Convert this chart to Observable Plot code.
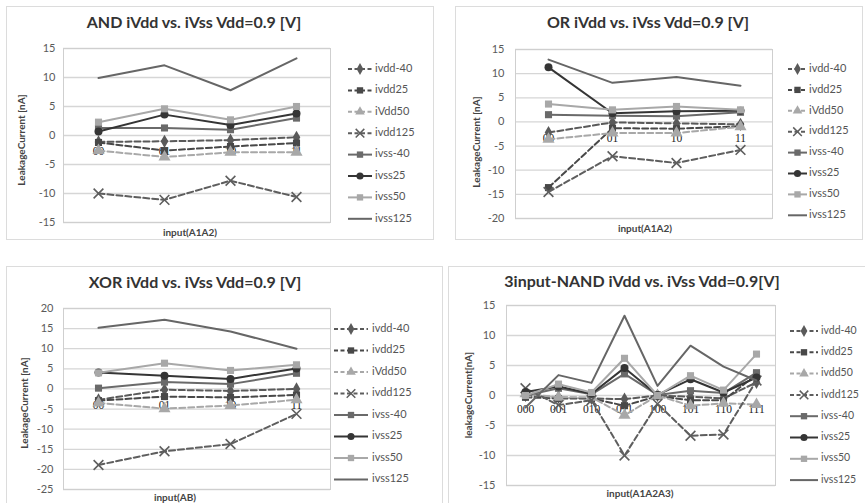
<!DOCTYPE html>
<html><head><meta charset="utf-8">
<script src="https://cdn.jsdelivr.net/npm/d3@7"></script>
<script src="https://cdn.jsdelivr.net/npm/@observablehq/plot@0.6"></script>
<style>
body{margin:0;background:#fff;}
#page{position:relative;width:865px;height:503px;overflow:hidden;font-family:Lato,"Open Sans",sans-serif;background:#fff;}
.panel{position:absolute;border:1px solid #dcdcdc;box-sizing:border-box;}
.chart{position:absolute;overflow:visible;}
</style></head><body><div id="page"></div>
<script>
// ---- data ----
const SERIES = ["ivdd-40","ivdd25","iVdd50","ivdd125","ivss-40","ivss25","ivss50","ivss125"];
const SERIES_NAND = ["ivdd-40","ivdd25","ivdd50","ivdd125","ivss-40","ivss25","ivss50","ivss125"];
const CATS2 = ["00","01","10","11"];
const CATS3 = ["000","001","010","011","100","101","110","111"];

// values in SERIES order
const AND_VALUES = [
  [-1.1, -1.0, -0.8, -0.3],
  [-1.2, -2.6, -1.9, -1.3],
  [-2.6, -3.7, -2.9, -2.9],
  [-10.0, -11.1, -7.8, -10.6],
  [1.3, 1.3, 1.0, 3.0],
  [0.7, 3.6, 1.8, 3.8],
  [2.3, 4.6, 2.7, 5.0],
  [9.9, 12.1, 7.8, 13.3]
];
const OR_VALUES = [
  [-2.2, -0.1, -0.3, -0.5],
  [-13.6, -1.3, -1.4, -0.9],
  [-3.6, -2.3, -2.3, -1.0],
  [-14.5, -7.1, -8.5, -5.8],
  [1.5, 1.3, 1.2, 2.0],
  [11.3, 1.8, 2.2, 2.3],
  [3.7, 2.5, 3.2, 2.5],
  [12.9, 8.1, 9.3, 7.5]
];
const XOR_VALUES = [
  [-2.7, -0.2, -0.5, 0.0],
  [-2.9, -1.9, -2.1, -1.5],
  [-3.5, -4.9, -4.1, -2.7],
  [-18.9, -15.5, -13.7, -6.2],
  [0.2, 1.7, 1.2, 3.9],
  [4.1, 3.3, 2.5, 5.1],
  [4.0, 6.4, 4.6, 6.0],
  [15.2, 17.2, 14.3, 10.0]
];
const NAND_VALUES = [
  [0.0, -0.3, -0.5, -0.6, 0.0, -0.2, -0.5, 2.2],
  [-0.3, -0.5, -0.5, -1.7, -0.1, -0.8, -0.8, 3.5],
  [0.3, -0.3, -0.3, -3.3, 0.0, -1.7, -1.3, -1.5],
  [1.2, -1.6, -0.8, -10.0, -1.4, -6.7, -6.5, 2.5],
  [0.0, 1.2, 0.2, 3.6, 0.1, 0.8, 0.4, 3.8],
  [0.6, 1.5, 0.3, 4.6, 0.1, 2.7, 0.5, 3.0],
  [0.0, 1.9, 0.5, 6.2, 0.0, 3.3, 0.9, 6.9],
  [-2.0, 3.4, 2.1, 13.3, 1.6, 8.3, 4.8, 2.5]
];
const TICKS_AND = [-15,-10,-5,0,5,10,15];
const TICKS_OR = [-20,-15,-10,-5,0,5,10,15];
const TICKS_XOR = [-25,-20,-15,-10,-5,0,5,10,15,20];
const TICKS_NAND = [-15,-10,-5,0,5,10,15];

// ---- styles ----
const STYLES = [
  {color:"#5a5a5a", dash:"6,3", symbol:"diamond", sym:d3.symbolDiamond},
  {color:"#484848", dash:"6,3", symbol:"square", sym:d3.symbolSquare},
  {color:"#a8a8a8", dash:"6,3", symbol:"triangle", sym:d3.symbolTriangle},
  {color:"#5e5e5e", dash:"6,3", symbol:"times", sym:d3.symbolTimes, stroke:true},
  {color:"#6a6a6a", dash:null, symbol:"square", sym:d3.symbolSquare},
  {color:"#353535", dash:null, symbol:"circle", sym:d3.symbolCircle},
  {color:"#a8a8a8", dash:null, symbol:"square", sym:d3.symbolSquare},
  {color:"#666666", dash:null, symbol:null, sym:null}
];

const page = document.getElementById("page");

const borders = [[6,6,428,234],[455,6,408,234],[6,266,437,240],[448,266,420,240]];
borders.forEach(([x,y,w,h])=>{
  const d=document.createElement("div"); d.className="panel";
  Object.assign(d.style,{left:x+"px",top:y+"px",width:w+"px",height:h+"px"});
  page.appendChild(d);
});

function panel(cfg){
  const [sx,sy,W,H] = cfg.box;
  const data = [];
  SERIES.forEach((s,i)=>cfg.values[i].forEach((v,j)=>data.push({si:i, cat:cfg.cats[j], v})));
  const marks = [
    Plot.gridY(cfg.ticks, {stroke:"#d6d6d6", strokeOpacity:1, strokeWidth:1.3}),
    Plot.frame({stroke:"#cfcfcf"}),
    Plot.axisY(cfg.ticks, {tickSize:0, tickPadding:cfg.tickPad, fontSize:11, fill:"#5a5a5a", tickFormat:d=>String(d), label:null}),
    Plot.text(cfg.cats, {x:d=>d, y:()=>0, dy:cfg.catDy, fontSize:11.5, fill:"#222", fontFamily:"Liberation Serif, serif"})
  ];
  STYLES.forEach((st,i)=>{
    const d = data.filter(r=>r.si===i);
    marks.push(Plot.line(d,{x:"cat",y:"v",stroke:st.color,strokeWidth:2,strokeDasharray:st.dash||undefined}));
    if(st.symbol){
      if(st.stroke) marks.push(Plot.dot(d,{x:"cat",y:"v",symbol:st.symbol,r:4.5,stroke:st.color,strokeWidth:1.6,fill:"none"}));
      else marks.push(Plot.dot(d,{x:"cat",y:"v",symbol:st.symbol,r:st.symbol==="triangle"?4.5:4,fill:st.color,stroke:"none"}));
    }
  });
  const svg = Plot.plot({
    width:W, height:H,
    marginLeft:cfg.plot[0]-sx, marginRight:sx+W-cfg.plot[1],
    marginTop:cfg.plot[2]-sy, marginBottom:sy+H-cfg.plot[3],
    x:{type:"point", domain:cfg.cats, padding:0.5, axis:null},
    y:{domain:cfg.domain, axis:null},
    style:{fontFamily:"Lato, sans-serif", background:"transparent", overflow:"visible"},
    marks
  });
  svg.classList.add("chart");
  svg.style.left=sx+"px"; svg.style.top=sy+"px";
  page.appendChild(svg);
  const g = d3.select(svg).append("g");
  g.append("text").attr("x",cfg.title[1]-sx).attr("y",cfg.title[2]-sy).attr("text-anchor","middle")
    .attr("font-size",16).attr("font-weight","bold").attr("fill","#333").attr("font-family","Lato, sans-serif").text(cfg.title[0]);
  g.append("text").attr("transform",`translate(${cfg.ylab[1]-sx},${cfg.ylab[2]-sy}) rotate(-90)`).attr("text-anchor","middle")
    .attr("dominant-baseline","middle").attr("font-size",10).attr("font-weight","bold").attr("fill","#444").attr("font-family","Lato, sans-serif").text(cfg.ylab[0]);
  g.append("text").attr("x",cfg.xlab[1]-sx).attr("y",cfg.xlab[2]-sy).attr("text-anchor","middle")
    .attr("font-size",10).attr("font-weight","bold").attr("fill","#444").attr("font-family","Lato, sans-serif").text(cfg.xlab[0]);
  // legend
  const [lx0,lx1,tx,ly0,lstep,fs] = cfg.legend;
  cfg.labels.forEach((lab,i)=>{
    const st=STYLES[i]; const y=ly0+i*lstep-sy;
    g.append("line").attr("x1",lx0-sx).attr("x2",lx1-sx).attr("y1",y).attr("y2",y)
      .attr("stroke",st.color).attr("stroke-width",2).attr("stroke-dasharray",st.dash?"4,2.5":null);
    if(st.sym){
      const p=d3.symbol(st.sym, st.stroke?50:40)();
      const m=g.append("path").attr("d",p).attr("transform",`translate(${(lx0+lx1)/2-sx},${y})`);
      if(st.stroke) m.attr("fill","none").attr("stroke",st.color).attr("stroke-width",1.5);
      else m.attr("fill",st.color);
    }
    g.append("text").attr("x",tx-sx).attr("y",y).attr("text-anchor","start").attr("dominant-baseline","middle").attr("font-size",fs)
      .attr("fill","#555").attr("font-family","Lato, sans-serif").text(lab);
  });
}

panel({box:[0,0,445,245], plot:[63,330,48,222], domain:[-15,15], ticks:TICKS_AND, tickPad:8, cats:CATS2, values:AND_VALUES, catDy:16,
  title:["AND iVdd vs. iVss Vdd=0.9 [V]",194,28], ylab:["LeakageCurrent [nA]",22,140], xlab:["input(A1A2)",190,236],
  legend:[348,372,375,69,21.4,11], labels:SERIES});
panel({box:[445,0,420,245], plot:[515,772,49,218], domain:[-20,15], ticks:TICKS_OR, tickPad:11, cats:CATS2, values:OR_VALUES, catDy:16,
  title:["OR iVdd vs. iVss Vdd=0.9 [V]",648,28], ylab:["LeakageCurrent [nA]",477,142], xlab:["input(A1A2)",645,232],
  legend:[788,807,809,69,20.9,11], labels:SERIES});
panel({box:[0,250,445,253], plot:[63,330,308,489], domain:[-25,20], ticks:TICKS_XOR, tickPad:10, cats:CATS2, values:XOR_VALUES, catDy:16,
  title:["XOR iVdd vs. iVss Vdd=0.9 [V]",195,288], ylab:["LeakageCurrent [nA]",25,403], xlab:["input(AB)",175,501],
  legend:[334,368,372,329,21.5,11], labels:SERIES});
panel({box:[445,250,420,253], plot:[506,775,305,485], domain:[-15,15], ticks:TICKS_NAND, tickPad:11, cats:CATS3, values:NAND_VALUES, catDy:14,
  title:["3input-NAND iVdd vs. iVss Vdd=0.9[V]",642,287], ylab:["leakageCurrent[nA]",469,395], xlab:["input(A1A2A3)",640,497],
  legend:[790,818,821,331,21.3,10.5], labels:SERIES_NAND});
</script></body></html>
